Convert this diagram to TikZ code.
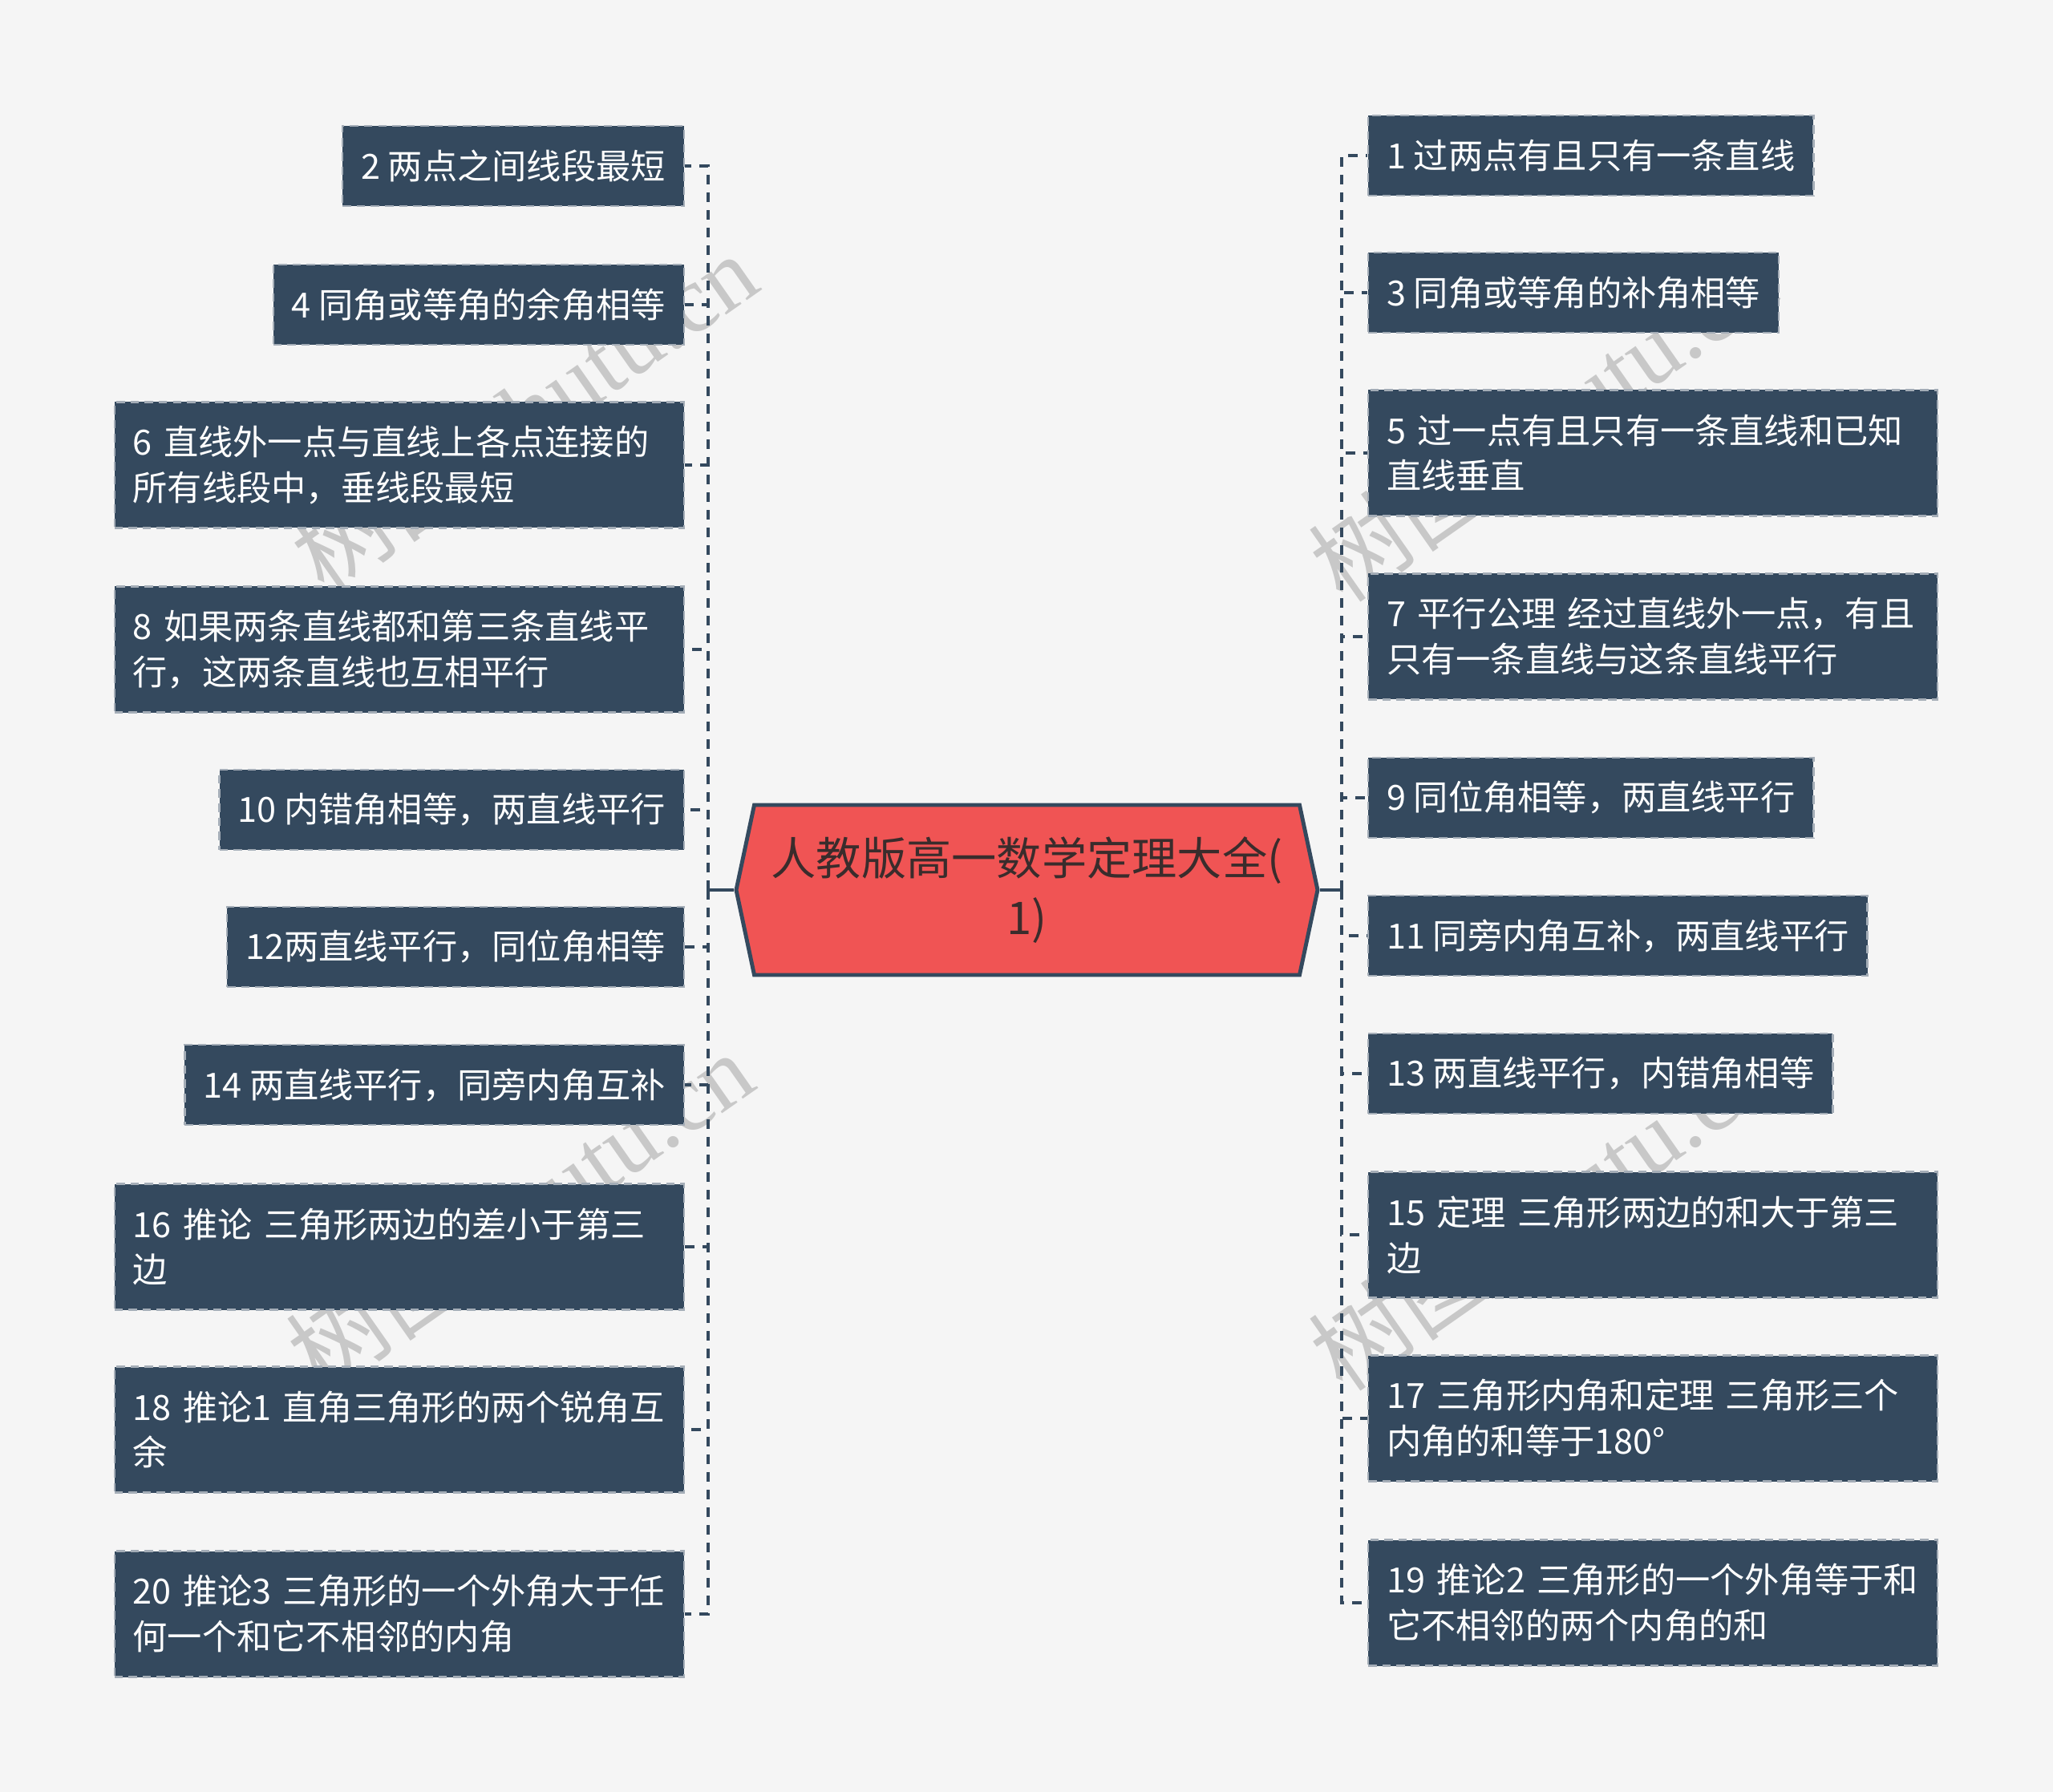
\documentclass[tikz,border=0pt]{standalone}
\usepackage{fontspec}
\newfontfamily\cjk{Noto Sans CJK SC}
\newfontfamily\wmfont{Liberation Serif}
\usetikzlibrary{shapes.symbols}
\definecolor{bgcol}{HTML}{F5F5F5}
\definecolor{boxblue}{HTML}{34495E}
\definecolor{rootred}{HTML}{F05454}
\definecolor{roottext}{HTML}{3A2C2C}
\definecolor{wmgray}{HTML}{C8C8C8}
\tikzset{
  leaf/.style={fill=boxblue, draw=white!55!boxblue, dash pattern=on 3pt off 2pt,
    line width=0.7pt, text=white, font=\cjk\fontsize{12.3pt}{16.2pt}\selectfont,
    inner xsep=0.23cm, minimum height=1cm, align=left},
  wide/.style={leaf, text width=6.64cm, minimum height=1.57cm},
  root/.style={signal, signal to=west and east, signal pointer angle=156,
    fill=rootred, draw=boxblue, line width=1.4pt, text=roottext,
    font=\cjk\fontsize{16pt}{21pt}\selectfont, align=center,
    minimum width=7.25cm, minimum height=2.12cm},
  link/.style={draw=boxblue, line width=1.1pt, dash pattern=on 0.12cm off 0.1cm},
  stem/.style={draw=boxblue, line width=1.1pt},
  wmtext/.style={text=wmgray, font=\cjk\fontsize{34pt}{34pt}\selectfont, rotate=35}
}
\begin{document}
\begin{tikzpicture}[y=-1cm]
\useasboundingbox[fill=bgcol] (0,0) rectangle (25.6,22.35);
\node[wmtext] (wm1) at (6.53,5.14) {树图 {\wmfont shutu.cn}};
\node[wmtext] (wm2) at (6.48,15.10) {树图 {\wmfont shutu.cn}};
\node[wmtext] (wm3) at (19.23,5.26) {树图 {\wmfont shutu.cn}};
\node[wmtext] (wm4) at (19.23,15.10) {树图 {\wmfont shutu.cn}};
\node[root] (root) at (12.805,11.10) {人教版高一数学定理大全(\\1)};
\coordinate (lspine) at (8.83,11.10);
\coordinate (rspine) at (16.73,11.10);
\node[leaf, anchor=east] (b2) at (8.54,2.07) {2 两点之间线段最短};
\node[leaf, anchor=east] (b4) at (8.54,3.80) {4 同角或等角的余角相等};
\node[wide, anchor=east] (b6) at (8.54,5.80) {6~直线外一点与直线上各点连接的\\所有线段中，垂线段最短};
\node[wide, anchor=east] (b8) at (8.54,8.10) {8~如果两条直线都和第三条直线平\\行，这两条直线也互相平行};
\node[leaf, anchor=east] (b10) at (8.54,10.10) {10 内错角相等，两直线平行};
\node[leaf, anchor=east] (b12) at (8.54,11.81) {12两直线平行，同位角相等};
\node[leaf, anchor=east] (b14) at (8.54,13.53) {14 两直线平行，同旁内角互补};
\node[wide, anchor=east] (b16) at (8.54,15.55) {16~推论~三角形两边的差小于第三\\边};
\node[wide, anchor=east] (b18) at (8.54,17.83) {18~推论1~直角三角形的两个锐角互\\余};
\node[wide, anchor=east] (b20) at (8.54,20.13) {20~推论3~三角形的一个外角大于任\\何一个和它不相邻的内角};
\node[leaf, anchor=west] (b1) at (17.05,1.94) {1 过两点有且只有一条直线};
\node[leaf, anchor=west] (b3) at (17.05,3.65) {3 同角或等角的补角相等};
\node[wide, anchor=west] (b5) at (17.05,5.65) {5~过一点有且只有一条直线和已知\\直线垂直};
\node[wide, anchor=west] (b7) at (17.05,7.94) {7~平行公理~经过直线外一点，有且\\只有一条直线与这条直线平行};
\node[leaf, anchor=west] (b9) at (17.05,9.95) {9 同位角相等，两直线平行};
\node[leaf, anchor=west] (b11) at (17.05,11.67) {11 同旁内角互补，两直线平行};
\node[leaf, anchor=west] (b13) at (17.05,13.39) {13 两直线平行，内错角相等};
\node[wide, anchor=west] (b15) at (17.05,15.40) {15~定理~三角形两边的和大于第三\\边};
\node[wide, anchor=west] (b17) at (17.05,17.69) {17~三角形内角和定理~三角形三个\\内角的和等于180°};
\node[wide, anchor=west] (b19) at (17.05,19.99) {19~推论2~三角形的一个外角等于和\\它不相邻的两个内角的和};
\draw[stem] (root.west) -- (lspine);
\draw[stem] (root.east) -- (rspine);
\foreach \n in {b2,b4,b6,b8,b10,b12,b14,b16,b18,b20}
  \draw[link] (lspine) |- (\n.east);
\foreach \n in {b1,b3,b5,b7,b9,b11,b13,b15,b17,b19}
  \draw[link] (rspine) |- (\n.west);
\end{tikzpicture}
\end{document}
